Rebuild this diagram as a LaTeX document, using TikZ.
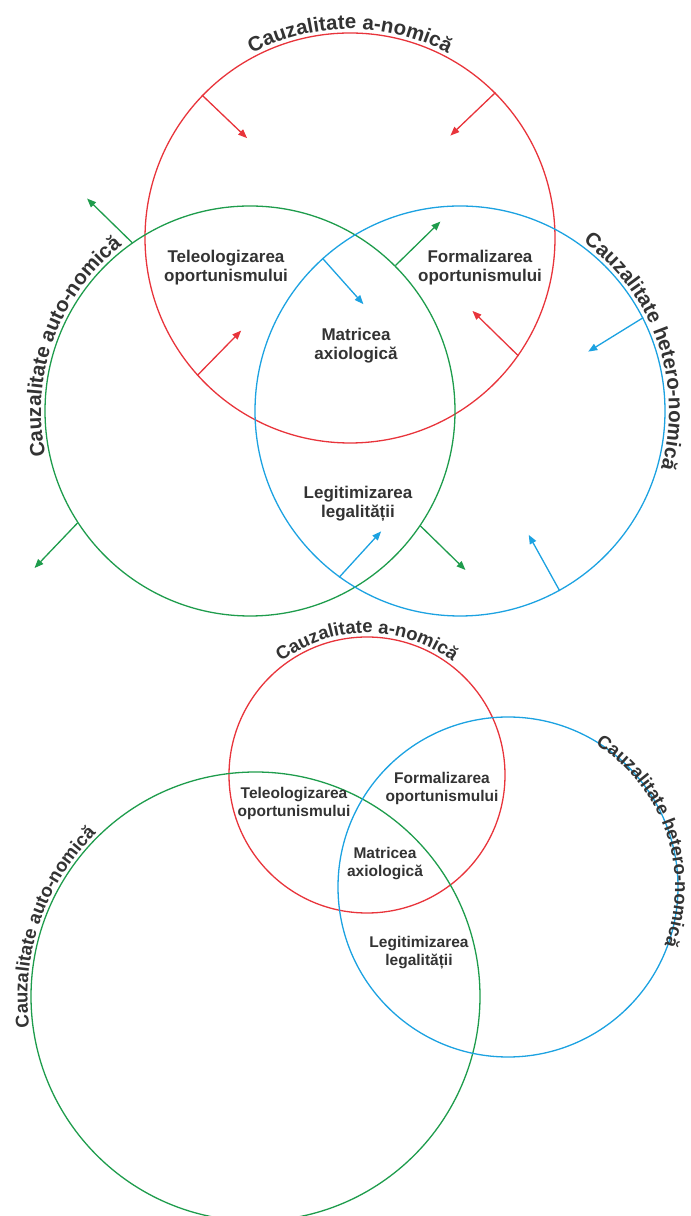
\documentclass[tikz,border=0pt]{standalone}
\usepackage{fontspec}
\setmainfont{Liberation Sans}
\usetikzlibrary{arrows.meta,decorations.text}

\definecolor{anomred}{HTML}{E8343B}
\definecolor{autogreen}{HTML}{1E9C4C}
\definecolor{heteroblue}{HTML}{1CA2E1}
\definecolor{inktext}{HTML}{333333}

\newcommand{\ringfont}{\bfseries\fontsize{20.5}{24}\selectfont\color{inktext}}
\newcommand{\smallringfont}{\bfseries\fontsize{18.5}{22}\selectfont\color{inktext}}

\begin{document}
\begin{tikzpicture}[
  x=1pt, y=1pt,
  ring/.style={circle, draw=#1, line width=1.3pt, inner sep=0pt},
  field/.style={align=center, font=\bfseries\fontsize{17}{19.5}\selectfont, text=inktext},
  smallfield/.style={align=center, font=\bfseries\fontsize{15.5}{18}\selectfont, text=inktext},
  push/.style={-{Triangle[length=9pt,width=7pt]}, line width=1.3pt, draw=#1, fill=#1}
]
\useasboundingbox (0,0) rectangle (691,1216);

% upper diagram
\node[ring=anomred, minimum size=410pt] (anom) at (350,978) {};
\node[ring=autogreen, minimum size=410pt] (auto) at (250,805) {};
\node[ring=heteroblue, minimum size=410pt] (hetero) at (460,805) {};

\path[decorate, decoration={text along path, text align=center,
    text={|\ringfont|Cauzalitate a-nomică}}]
  (anom.center) ++(150:209) arc[start angle=150, end angle=30, radius=209];
\path[decorate, decoration={text along path, text align=center,
    text={|\ringfont|Cauzalitate auto-nomică}}]
  (auto.center) ++(200:209) arc[start angle=200, end angle=120, radius=209];
\path[decorate, decoration={text along path, text align=center,
    text={|\ringfont|Cauzalitate hetero-nomică}}]
  (hetero.center) ++(60:209) arc[start angle=60, end angle=-22, radius=209];

\node[field] (teleo) at (226,948.5) {Teleologizarea\\oportunismului};
\node[field] (formal) at (480,948.5) {Formalizarea\\oportunismului};
\node[field] (matrix) at (356,870.5) {Matricea\\axiologică};
\node[field] (legit) at (358,712) {Legitimizarea\\legalității};

% Arrows
\draw[push=anomred] (anom.136) -- ++(45,-43);
\draw[push=anomred] (anom.45) -- ++(-45,-43);
\draw[push=anomred] (anom.222) -- ++(44,45);
\draw[push=anomred] (anom.325) -- ++(-46,45);

\draw[push=autogreen] (auto.125) -- ++(-45,44);
\draw[push=autogreen] (auto.45) -- ++(45,44);
\draw[push=autogreen] (auto.213) -- ++(-43,-45);
\draw[push=autogreen] (auto.326) -- ++(45,-44);

\draw[push=heteroblue] (hetero.132) -- ++(41,-46);
\draw[push=heteroblue] (hetero.27.5) -- ++(-55,-34);
\draw[push=heteroblue] (hetero.234) -- ++(42,46);
\draw[push=heteroblue] (hetero.299) -- ++(-31,56);

% lower diagram
\node[ring=anomred, minimum size=276pt] (anom2) at (367,441) {};
\node[ring=autogreen, minimum size=449pt] (auto2) at (255.5,219.5) {};
\node[ring=heteroblue, minimum size=340pt] (hetero2) at (508,329) {};

\path[decorate, decoration={text along path, text align=center,
    text={|\smallringfont|Cauzalitate a-nomică}}]
  (anom2.center) ++(145:142) arc[start angle=145, end angle=35, radius=142];
\path[decorate, decoration={text along path, text align=center,
    text={|\smallringfont|Cauzalitate auto-nomică}}]
  (auto2.center) ++(200:228) arc[start angle=200, end angle=122, radius=228];
\path[decorate, decoration={text along path, text align=center,
    text={|\smallringfont|Cauzalitate hetero-nomică}}]
  (hetero2.center) ++(70:167) arc[start angle=70, end angle=-32, radius=167];

\node[smallfield] (teleo2) at (294,412.5) {Teleologizarea\\oportunismului};
\node[smallfield] (formal2) at (442,428) {Formalizarea\\oportunismului};
\node[smallfield] (matrix2) at (385,352) {Matricea\\axiologică};
\node[smallfield] (legit2) at (419,263) {Legitimizarea\\legalității};

\end{tikzpicture}
\end{document}
